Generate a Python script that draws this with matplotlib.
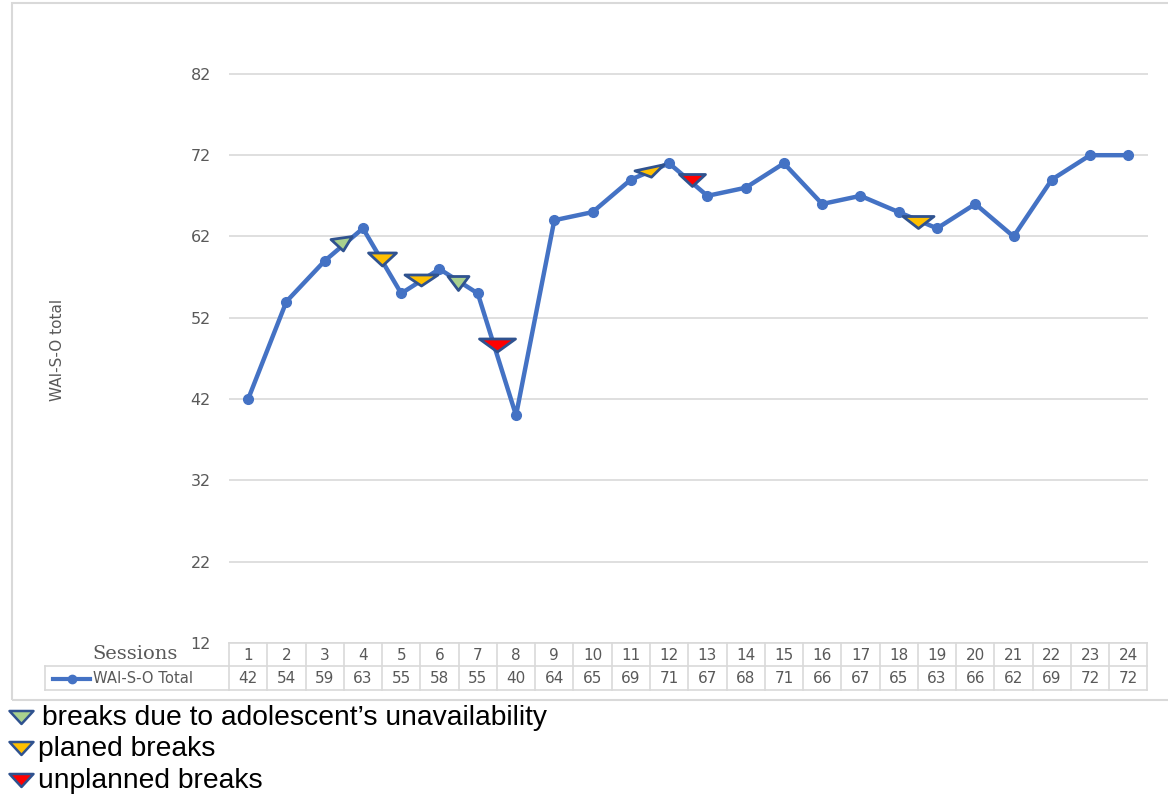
import matplotlib
matplotlib.use("Agg")
import matplotlib.pyplot as plt
from matplotlib.path import Path
from matplotlib.transforms import Affine2D, blended_transform_factory
from matplotlib.patches import Rectangle
from matplotlib.lines import Line2D

# ---- data ----
sessions = list(range(1, 25))
wai_total = [42, 54, 59, 63, 55, 58, 55, 40, 64, 65, 69, 71,
             67, 68, 71, 66, 67, 65, 63, 66, 62, 69, 72, 72]

# break markers: position between sessions, vertical position, type
break_pos = [3.45, 4.5, 5.52, 6.49, 7.5, 11.5, 12.6, 18.5]
break_val = [61.1, 59.2, 56.6, 56.3, 48.7, 69.9, 69.0, 63.8]
break_kind = ["adolescent", "planned", "planned", "adolescent", "unplanned",
              "planned", "unplanned", "planned"]

legend_labels = ["breaks due to adolescent\u2019s unavailability",
                 "planed breaks",
                 "unplanned breaks"]
legend_kinds = ["adolescent", "planned", "unplanned"]

y_ticks = [12, 22, 32, 42, 52, 62, 72, 82]
series_name = "WAI-S-O Total"
y_title = "WAI-S-O total"
row_title = "Sessions"

# ---- style ----
W, H = 1168, 796
DPI = 100
LINE_BLUE = "#4472C4"
GRID = "#D9D9D9"
TXT = "#595959"
EDGE = "#2F528F"
kind_color = {"adolescent": "#A9D18E", "planned": "#FFC000", "unplanned": "#FF0000"}
# marker shape (width px, height px, rotation deg) per marker
break_shape = [(23, 14, 8), (28, 13, 0), (33, 11, 0), (21, 14, 0), (36, 13, 0),
               (31, 10, 12), (26, 12, 0), (31, 12, 0)]


def fx(px):
    return px / W


def fy(py):
    return 1 - py / H


def tri_marker(w, h, rot=0):
    verts = [(-w / 2, h / 2), (w / 2, h / 2), (0, -h / 2), (-w / 2, h / 2)]
    p = Path(verts, [Path.MOVETO, Path.LINETO, Path.LINETO, Path.CLOSEPOLY])
    if rot:
        p = p.transformed(Affine2D().rotate_deg(rot))
    return p


fig = plt.figure(figsize=(W / DPI, H / DPI), dpi=DPI)

# chart frame
fig.add_artist(Rectangle((fx(12), fy(700)), fx(1170) - fx(12), fy(3) - fy(700),
                         transform=fig.transFigure, fill=False,
                         edgecolor=GRID, linewidth=1.5))

ax_left, ax_right = 229, 1147.5
ax_bottom = 643
y_top_val = 87
px_per_unit = 8.13
ax_top = ax_bottom - (y_top_val - 12) * px_per_unit
ax = fig.add_axes([fx(ax_left), fy(ax_bottom), fx(ax_right) - fx(ax_left),
                   fy(ax_top) - fy(ax_bottom)])
ax.set_xlim(0.5, 24.5)
ax.set_ylim(12, y_top_val)
for s in ax.spines.values():
    s.set_visible(False)
ax.set_xticks([])
ax.set_yticks(y_ticks)
ax.tick_params(axis="y", length=0, pad=13, labelsize=11.5, labelcolor=TXT)
ax.yaxis.grid(True, color=GRID, linewidth=1.2)
ax.set_axisbelow(True)

ax.plot(sessions, wai_total, color=LINE_BLUE, linewidth=3.2, marker="o",
        markersize=7, markerfacecolor=LINE_BLUE, markeredgecolor=LINE_BLUE,
        solid_joinstyle="round", zorder=3)

for x, v, k, (w, h, r) in zip(break_pos, break_val, break_kind, break_shape):
    ax.plot([x], [v], linestyle="none", marker=tri_marker(w, h, r),
            markersize=max(w, h) * 72 / DPI, markerfacecolor=kind_color[k],
            markeredgecolor=EDGE, markeredgewidth=2.0, zorder=4)

fig.text(fx(57), fy(350), y_title, rotation=90, ha="center", va="center",
         fontsize=11, color=TXT, family=["Liberation Sans Narrow", "DejaVu Sans"])

# ---- data table ----
tr = blended_transform_factory(ax.transData, fig.transFigure)
row1_top, row_mid, row2_bot = 643, 666, 690
tcol = GRID
# horizontal lines
for yy in (row1_top, row_mid, row2_bot):
    ax.add_line(Line2D([0.5, 24.5], [fy(yy), fy(yy)], transform=tr, color=tcol,
                       linewidth=1.2, clip_on=False))
# vertical lines
for b in range(25):
    ax.add_line(Line2D([b + 0.5, b + 0.5], [fy(row1_top), fy(row2_bot)], transform=tr,
                       color=tcol, linewidth=1.2, clip_on=False))
for s, v in zip(sessions, wai_total):
    ax.text(s, fy(655), str(s), transform=tr, ha="center", va="center",
            fontsize=11, color=TXT, clip_on=False)
    ax.text(s, fy(678.5), str(v), transform=tr, ha="center", va="center",
            fontsize=11, color=TXT, clip_on=False)

# row header cell for the series
fig.add_artist(Line2D([fx(45), fx(229)], [fy(row_mid), fy(row_mid)], color=tcol, linewidth=1.2))
fig.add_artist(Line2D([fx(45), fx(229)], [fy(row2_bot), fy(row2_bot)], color=tcol, linewidth=1.2))
fig.add_artist(Line2D([fx(45), fx(45)], [fy(row_mid), fy(row2_bot)], color=tcol, linewidth=1.2))
fig.add_artist(Line2D([fx(53), fx(90)], [fy(678.5), fy(678.5)], color=LINE_BLUE,
                      linewidth=3.0, marker=None))
fig.add_artist(Line2D([fx(72)], [fy(678.5)], color=LINE_BLUE, marker="o",
                      markersize=6, linestyle="none"))
fig.text(fx(93), fy(678.5), series_name, ha="left", va="center", fontsize=10.6, color=TXT)
fig.text(fx(178), fy(654), row_title, ha="right", va="center", fontsize=14,
         color=TXT, family="DejaVu Serif")

# ---- break legend below the chart ----
leg_y = [718, 749, 781]
leg_tx = [42, 38, 38]
for k, lab, yy, tx in zip(legend_kinds, legend_labels, leg_y, leg_tx):
    fig.add_artist(Line2D([fx(21)], [fy(yy - 1)], linestyle="none",
                          marker=tri_marker(24, 13), markersize=24 * 72 / DPI,
                          markerfacecolor=kind_color[k], markeredgecolor=EDGE,
                          markeredgewidth=1.8))
    fig.text(fx(tx), fy(yy), lab, ha="left", va="center", fontsize=20.3,
             color="black", family="Liberation Sans")

fig.savefig("out.png", dpi=DPI)
